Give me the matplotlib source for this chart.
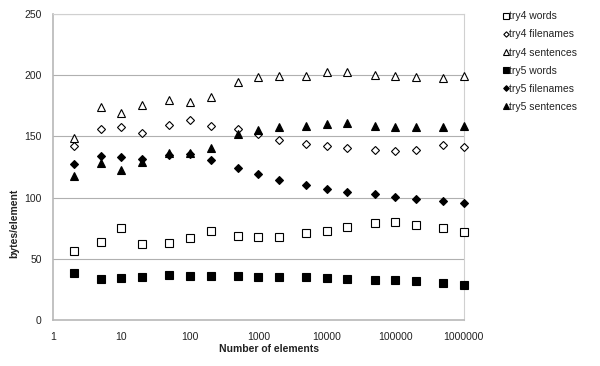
import matplotlib
matplotlib.use("Agg")
import matplotlib.pyplot as plt
from matplotlib.ticker import FixedLocator, NullLocator

# ── data ─────────────────────────────────────────────────────────
n_elements = [2, 5, 10, 20, 50, 100, 200, 500, 1000, 2000, 5000, 10000,
              20000, 50000, 100000, 200000, 500000, 1000000]

try4_words = [56.4, 63.5, 75.0, 62.0, 63.0, 66.7, 73.0, 69.0, 67.5, 67.5,
              71.4, 72.7, 76.0, 79.0, 79.8, 77.3, 75.4, 72.2]
try4_filenames = [142.0, 156.0, 157.4, 153.0, 159.6, 163.7, 158.8, 156.3,
                  151.7, 147.0, 143.8, 142.2, 140.2, 138.9, 138.3, 138.9,
                  142.7, 141.6]
try4_sentences = [148.4, 174.3, 168.8, 175.4, 179.7, 178.4, 182.2, 194.7,
                  198.3, 199.6, 199.6, 202.3, 202.6, 200.4, 199.0, 198.3,
                  198.0, 199.0]
try5_words = [38.7, 33.2, 34.6, 34.9, 36.5, 36.0, 36.0, 36.0, 35.1, 34.9,
              34.9, 34.0, 33.5, 33.0, 32.7, 31.9, 30.2, 28.6]
try5_filenames = [127.5, 134.3, 133.2, 131.5, 135.0, 135.6, 130.4, 123.9,
                  119.6, 114.7, 110.3, 107.3, 104.8, 102.7, 100.8, 98.9,
                  97.0, 95.3]
try5_sentences = [118.0, 128.0, 122.5, 129.4, 136.7, 136.7, 140.5, 151.7,
                  155.5, 157.4, 158.5, 160.4, 161.0, 158.5, 157.7, 157.4,
                  157.7, 158.8]

x_ticks = [1, 10, 100, 1000, 10000, 100000, 1000000]
x_tick_labels = ["1", "10", "100", "1000", "10000", "100000", "1000000"]
y_ticks = [0, 50, 100, 150, 200, 250]

# label, values, marker, face colour, marker size
series = [
    ("try4 words",     try4_words,     "s", "white", 6.0),
    ("try4 filenames", try4_filenames, "D", "white", 4.2),
    ("try4 sentences", try4_sentences, "^", "white", 6.2),
    ("try5 words",     try5_words,     "s", "black", 6.0),
    ("try5 filenames", try5_filenames, "D", "black", 4.4),
    ("try5 sentences", try5_sentences, "^", "black", 6.2),
]

plt.rcParams["font.family"] = ["Liberation Sans", "DejaVu Sans"]
text_col = "#222222"
grid_col = "#b0b0b0"

fig = plt.figure(figsize=(6.0, 3.66), dpi=100)
ax = fig.add_axes([0.0883, 0.1257, 0.6847, 0.836])

for label, vals, marker, face, ms in series:
    ax.plot(n_elements, vals, linestyle="none", marker=marker,
            markersize=ms, markerfacecolor=face, markeredgecolor="black",
            markeredgewidth=0.8, label=label, clip_on=False, zorder=3)

ax.set_xscale("log")
ax.set_xlim(1, 1000000)
ax.set_ylim(0, 250)
ax.xaxis.set_major_locator(FixedLocator(x_ticks))
ax.xaxis.set_minor_locator(NullLocator())
ax.set_xticklabels(x_tick_labels)
ax.set_yticks(y_ticks)

ax.yaxis.grid(True, color=grid_col, linewidth=0.8)
ax.set_axisbelow(True)
for side in ["top", "right"]:
    ax.spines[side].set_color("#d0d0d0")
    ax.spines[side].set_linewidth(0.8)
for side in ["left", "bottom"]:
    ax.spines[side].set_color("#b8b8b8")
    ax.spines[side].set_linewidth(1.2)

ax.tick_params(axis="both", length=0, labelsize=7.5, colors=text_col)
ax.tick_params(axis="x", pad=9)
ax.tick_params(axis="y", pad=8)

ax.set_xlabel("Number of elements", fontsize=7.5, fontweight="bold",
              color=text_col)
ax.set_ylabel("bytes/element", fontsize=7.5, fontweight="bold",
              color=text_col)
ax.xaxis.set_label_coords(0.526, -0.078)
ax.yaxis.set_label_coords(-0.083, 0.317)

leg = ax.legend(loc="upper left", bbox_to_anchor=(1.097, 1.009), frameon=False,
                fontsize=7.5, handlelength=0.4, handletextpad=0.1,
                labelspacing=0.78, borderaxespad=0, borderpad=0,
                markerscale=0.65)
for t in leg.get_texts():
    t.set_color(text_col)

fig.savefig("out.png", dpi=100)
plt.close(fig)
